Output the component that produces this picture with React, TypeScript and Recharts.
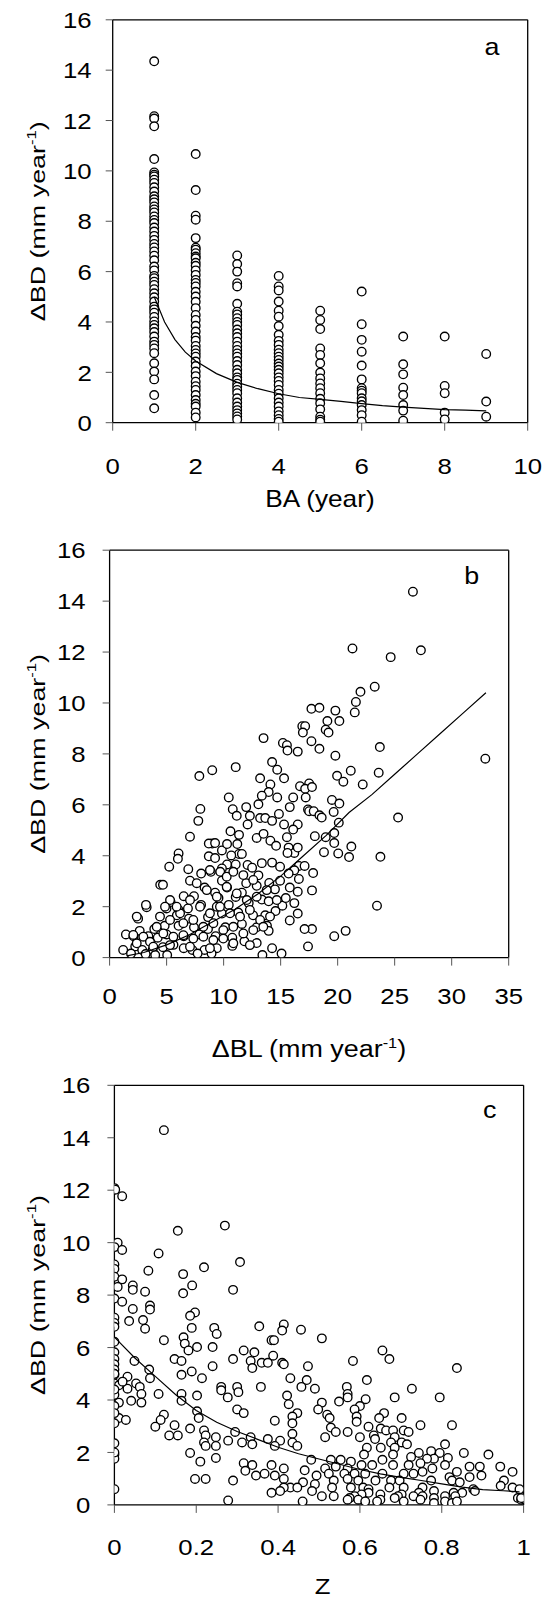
import React from 'react';
import { ScatterChart, Scatter, XAxis, YAxis, ReferenceLine } from 'recharts';

const FONT = '"Liberation Sans", Arial, Helvetica, sans-serif';
const SX = 1.12; // the printed figure's lettering is wider than plain Arial

// ---- panel a: ΔBD by bud age (one column of values per year) ----
const baYears = [1, 2, 3, 4, 5, 6, 7, 8, 9];
const ba1 = [14.35, 12.17, 12.08, 11.77, 10.47, 9.94, 9.85, 9.78, 9.65, 9.52, 9.35, 9.18, 8.99, 8.87, 8.75, 8.59, 8.47, 8.35, 8.19, 8.05, 7.93, 7.75, 7.59, 7.42, 7.26, 7.1, 6.96, 6.8, 6.63, 6.45, 6.2, 6.05, 5.83, 5.74, 5.6, 5.47, 5.3, 5.14, 4.98, 4.81, 4.61, 4.5, 4.37, 4.2, 4.02, 3.88, 3.75, 3.6, 3.42, 3.22, 3.09, 2.95, 2.76, 2.36, 2.03, 1.72, 1.1, 0.57];
const ba2 = [10.67, 9.24, 8.22, 8.06, 7.33, 6.95, 6.87, 6.73, 6.6, 6.53, 6.35, 6.23, 6.05, 5.87, 5.67, 5.55, 5.41, 5.2, 5.01, 4.8, 4.55, 4.28, 4.08, 3.85, 3.62, 3.4, 3.26, 3.05, 2.89, 2.75, 2.62, 2.43, 2.25, 2.03, 1.85, 1.63, 1.45, 1.3, 1.1, 0.9, 0.75, 0.64, 0.4, 0.21];
const ba3 = [6.64, 6.3, 6.0, 5.54, 5.41, 4.72, 4.41, 4.3, 4.15, 4.0, 3.88, 3.7, 3.55, 3.4, 3.22, 3.05, 2.89, 2.75, 2.62, 2.45, 2.29, 2.1, 1.96, 1.8, 1.7, 1.55, 1.43, 1.3, 1.17, 0.97, 0.8, 0.64, 0.5, 0.37, 0.25, 0.13];
const ba4 = [5.83, 5.41, 5.25, 4.81, 4.45, 4.21, 3.84, 3.49, 3.25, 3.09, 2.9, 2.76, 2.62, 2.49, 2.35, 2.23, 2.1, 1.96, 1.8, 1.66, 1.5, 1.3, 1.15, 0.97, 0.8, 0.64, 0.45, 0.3, 0.15, 0.04];
const ba5 = [4.45, 4.08, 3.72, 2.95, 2.69, 2.36, 1.99, 1.76, 1.56, 1.37, 1.17, 0.95, 0.77, 0.53, 0.24, 0.12, 0.04];
const ba6 = [5.21, 3.91, 3.29, 2.82, 2.27, 1.72, 1.37, 1.27, 1.17, 0.97, 0.85, 0.7, 0.5, 0.3, 0.04];
const ba7 = [3.42, 2.32, 1.92, 1.39, 1.1, 0.7, 0.48, 0.08];
const ba8 = [3.42, 1.46, 1.17, 0.4, 0.13];
const ba9 = [2.73, 0.84, 0.24];
const baColumns = [ba1, ba2, ba3, ba4, ba5, ba6, ba7, ba8, ba9];

const fitAx = [1, 1.25, 1.5, 1.75, 2, 2.5, 3, 3.5, 4, 4.5, 5, 5.5, 6, 6.5, 7, 7.5, 8, 8.5, 9];
const fitAy = [5.0, 4.0, 3.3, 2.8, 2.45, 1.95, 1.6, 1.35, 1.15, 1.0, 0.93, 0.85, 0.76, 0.68, 0.62, 0.57, 0.52, 0.5, 0.47];

// ---- panel b: ΔBD against ΔBL ----
const ptsB: [number, number][] = [
  [26.6, 14.37], [21.3, 12.14], [27.3, 12.07], [24.65, 11.8], [23.25, 10.64], [22.0, 10.44], [21.6, 10.04], [21.5, 9.63],
  [17.7, 9.77], [18.4, 9.81], [19.8, 9.7], [19.1, 9.29], [20.15, 9.29], [18.95, 8.95], [19.2, 8.84], [16.9, 9.09],
  [17.15, 9.09], [16.95, 8.84], [17.7, 8.5], [18.4, 8.2], [16.5, 8.09], [15.2, 8.43], [15.55, 8.34], [15.6, 8.13],
  [13.5, 8.62], [19.8, 7.93], [23.7, 8.27], [32.95, 7.81], [14.25, 7.68], [14.7, 7.38], [15.3, 7.04], [13.2, 7.04],
  [11.06, 7.48], [9.0, 7.36], [7.87, 7.13], [21.15, 7.34], [23.6, 7.26], [19.95, 7.14], [20.5, 6.91], [22.2, 6.8],
  [14.1, 6.8], [16.7, 6.73], [17.5, 6.84], [17.15, 6.63], [17.75, 6.7], [17.2, 6.29], [14.7, 6.29], [13.95, 6.5],
  [13.35, 6.36], [10.45, 6.29], [16.1, 6.29], [15.8, 5.91], [13.05, 6.02], [11.98, 5.91], [10.8, 5.83], [7.96, 5.84],
  [17.4, 5.82], [17.5, 5.75], [17.9, 5.75], [18.4, 5.59], [18.6, 5.5], [19.5, 6.19], [20.15, 6.05], [19.65, 5.72],
  [11.15, 5.57], [12.3, 5.57], [12.1, 5.23], [7.78, 5.37], [13.2, 5.48], [13.65, 5.48], [14.25, 5.37], [14.85, 5.64],
  [15.3, 5.23], [16.5, 5.23], [16.1, 5.03], [25.3, 5.5], [20.1, 5.3], [19.7, 4.89], [18.95, 4.73], [18.0, 4.77],
  [7.05, 4.75], [10.6, 4.96], [11.35, 4.82], [12.9, 4.7], [13.5, 4.86], [14.1, 4.59], [14.6, 4.39], [15.55, 4.73],
  [15.7, 4.32], [16.2, 4.11], [15.6, 4.11], [16.5, 4.32], [21.2, 4.36], [19.7, 4.5], [20.05, 4.09], [21.0, 3.95],
  [23.75, 3.96], [18.8, 4.14], [9.0, 4.48], [8.7, 4.48], [9.25, 4.5], [8.7, 3.98], [9.25, 3.91], [6.05, 4.09],
  [5.99, 3.88], [9.85, 4.21], [10.3, 4.46], [11.2, 4.46], [11.35, 4.07], [11.6, 4.07], [10.67, 4.01], [10.3, 3.66],
  [9.85, 3.5], [11.06, 3.66], [12.1, 3.64], [12.5, 3.53], [13.05, 3.23], [13.35, 3.71], [14.25, 3.73], [14.95, 3.57],
  [16.6, 3.6], [17.1, 3.6], [16.2, 3.43], [15.7, 3.3], [17.85, 3.32], [16.6, 3.09], [5.23, 3.57], [6.9, 3.47],
  [8.03, 3.3], [8.88, 3.37], [7.05, 3.02], [4.44, 2.86], [4.68, 2.86], [8.33, 2.75], [9.85, 3.02], [10.3, 2.75],
  [11.98, 2.92], [12.9, 2.82], [14.0, 2.93], [14.5, 2.68], [14.95, 3.02], [15.8, 2.75], [16.5, 2.59], [17.75, 2.64],
  [11.6, 2.55], [11.06, 2.38], [6.5, 2.41], [7.4, 2.41], [9.25, 2.55], [9.55, 2.34], [3.25, 1.98], [5.35, 2.18],
  [4.99, 1.93], [6.05, 1.87], [6.87, 1.93], [8.02, 2.07], [9.4, 2.0], [10.45, 2.07], [12.2, 2.14], [13.35, 2.28],
  [13.95, 2.21], [15.15, 2.04], [15.45, 2.34], [16.2, 2.14], [23.45, 2.04], [2.5, 1.53], [5.9, 1.66], [6.96, 1.53],
  [8.63, 1.59], [9.85, 1.73], [11.28, 1.77], [11.6, 1.32], [12.58, 1.66], [13.65, 1.66], [14.55, 1.83], [15.8, 1.46],
  [16.5, 1.73], [17.75, 1.12], [17.1, 1.12], [13.8, 1.25], [13.95, 1.05], [12.9, 1.19], [20.7, 1.05], [19.7, 0.84],
  [10.15, 1.19], [8.63, 1.12], [7.4, 1.19], [6.05, 1.25], [4.83, 1.25], [3.92, 1.12], [2.64, 1.05], [1.43, 0.91],
  [2.1, 0.84], [3.4, 0.84], [4.22, 0.78], [5.0, 0.91], [6.5, 0.84], [7.87, 0.91], [9.3, 0.84], [10.76, 0.78],
  [11.82, 0.64], [12.9, 0.57], [10.76, 0.46], [14.25, 0.37], [17.4, 0.44], [1.19, 0.3], [2.25, 0.44], [2.86, 0.3],
  [3.77, 0.3], [4.68, 0.41], [5.6, 0.5], [6.5, 0.37], [7.26, 0.3], [8.33, 0.3], [9.4, 0.37], [8.94, 0.16],
  [7.72, 0.16], [5.05, 0.1], [4.0, 0.1], [3.16, 0.14], [13.4, 0.1], [15.08, 0.16], [1.88, 0.16],
  [8.8, 3.44], [9.7, 3.37], [10.27, 3.18], [10.85, 3.37], [11.73, 3.24], [12.6, 3.05], [7.64, 2.92], [8.52, 2.65],
  [9.4, 2.39], [10.27, 2.78], [11.15, 2.52], [12.03, 2.26], [12.9, 2.39], [13.78, 2.65], [14.66, 2.26], [7.05, 2.26],
  [7.93, 2.0], [8.8, 1.74], [9.68, 2.0], [10.56, 1.74], [11.44, 1.61], [12.3, 1.87], [13.2, 1.48], [14.07, 1.61],
  [6.18, 1.74], [5.3, 1.48], [6.47, 1.35], [7.34, 1.48], [8.22, 1.21], [9.1, 1.35], [9.97, 1.08], [10.85, 1.21],
  [11.73, 0.95], [12.6, 1.08], [13.48, 1.21], [4.13, 1.21], [4.71, 0.95], [5.59, 0.82], [6.47, 0.88], [7.34, 0.75],
  [8.22, 0.82], [9.1, 0.69], [9.97, 0.75], [10.85, 0.56], [2.96, 0.82], [3.54, 0.62], [2.38, 0.56], [2.08, 0.89],
  [3.83, 0.43], [5.3, 0.49], [7.05, 0.43], [8.8, 0.37], [12.3, 0.49], [2.38, 1.61], [3.19, 2.07], [5.3, 2.26],
  [5.88, 2.0], [4.86, 2.0], [4.42, 1.61],
];
const fitBx = [1.5, 3, 5, 7, 9, 11, 13, 15, 17, 19, 21, 23, 25, 27, 29, 31, 33];
const fitBy = [0.07, 0.2, 0.5, 0.9, 1.4, 1.9, 2.5, 3.2, 4.0, 4.8, 5.7, 6.4, 7.2, 8.0, 8.8, 9.6, 10.4];

// ---- panel c: ΔBD against Z ----
const ptsC: [number, number][] = [
  [0.121, 14.29], [0, 12.08], [0.002, 12.02], [0.019, 11.77], [0.27, 10.65], [0.155, 10.45], [0.008, 10.0], [0, 9.83],
  [0.019, 9.72], [0.108, 9.59], [0.307, 9.26], [0, 9.17], [0.219, 9.06], [0.083, 8.93], [0, 9.0], [0.168, 8.8],
  [0, 8.7], [0.019, 8.6], [0.008, 8.31], [0.045, 8.37], [0.19, 8.37], [0.045, 8.2], [0.168, 8.07], [0.29, 8.2],
  [0.075, 8.13], [0, 7.87], [0.019, 7.75], [0.087, 7.6], [0.045, 7.47], [0.087, 7.45], [0.197, 7.34], [0.185, 7.21],
  [0, 7.14], [0.07, 7.05], [0.036, 7.01], [0, 6.94], [0, 6.79], [0.075, 6.72], [0.414, 6.88], [0.244, 6.75],
  [0.189, 6.75], [0.354, 6.81], [0.456, 6.68], [0.41, 6.65], [0.25, 6.52], [0.169, 6.39], [0.384, 6.28], [0.39, 6.28],
  [0.121, 6.28], [0.507, 6.35], [0, 6.22], [0.172, 6.15], [0.202, 6.02], [0.24, 6.02], [0.181, 5.89], [0.316, 5.89],
  [0.342, 5.82], [0, 5.82], [0.655, 5.89], [0.388, 5.69], [0.29, 5.56], [0.147, 5.56], [0, 5.56], [0.672, 5.56],
  [0.583, 5.49], [0.049, 5.49], [0.164, 5.49], [0.333, 5.49], [0.36, 5.42], [0.375, 5.42], [0.41, 5.42], [0.414, 5.36],
  [0, 5.36], [0.337, 5.22], [0.24, 5.29], [0.837, 5.22], [0.473, 5.29], [0, 5.16], [0.085, 5.16], [0.189, 5.09],
  [0, 4.96], [0.164, 4.96], [0.032, 4.89], [0.214, 4.83], [0.43, 4.83], [0.087, 4.83], [0.617, 4.76], [0.47, 4.76],
  [0, 4.63], [0.053, 4.63], [0.011, 4.56], [0.358, 4.5], [0.457, 4.5], [0.261, 4.5], [0.3, 4.5], [0.49, 4.43],
  [0.062, 4.5], [0.727, 4.43], [0.032, 4.43], [0.261, 4.37], [0.568, 4.5], [0.57, 4.23], [0.303, 4.3], [0.066, 4.23],
  [0.164, 4.23], [0.202, 4.17], [0.277, 4.1], [0.422, 4.17], [0.108, 4.23], [0.614, 4.03], [0.795, 4.1], [0.685, 4.1],
  [0.57, 4.1], [0.041, 3.97], [0.066, 3.9], [0.164, 3.97], [0.549, 3.94], [0.011, 3.9], [0.426, 3.84], [0.507, 3.9],
  [0.6, 3.77], [0, 3.77], [0.587, 3.64], [0.498, 3.64], [0.3, 3.64], [0.202, 3.57], [0.659, 3.5], [0.52, 3.44],
  [0.121, 3.44], [0.316, 3.5], [0.447, 3.5], [0.206, 3.31], [0.435, 3.37], [0.702, 3.31], [0.526, 3.31], [0.592, 3.37],
  [0.011, 3.31], [0.028, 3.24], [0.113, 3.24], [0.647, 3.31], [0.392, 3.21], [0.592, 3.17], [0, 3.11], [0.435, 3.11],
  [0.825, 3.04], [0.147, 3.04], [0.1, 2.98], [0.621, 2.98], [0.748, 3.04], [0.529, 2.95], [0.219, 2.84], [0.185, 2.91],
  [0.651, 2.91], [0.664, 2.84], [0.681, 2.84], [0.707, 2.84], [0.541, 2.78], [0.57, 2.78], [0.295, 2.78], [0.719, 2.78],
  [0.435, 2.71], [0.134, 2.65], [0.155, 2.65], [0.223, 2.65], [0.634, 2.65], [0.6, 2.58], [0.515, 2.58], [0.685, 2.58],
  [0.248, 2.58], [0.333, 2.58], [0.375, 2.51], [0.637, 2.51], [0.405, 2.45], [0.278, 2.45], [0.312, 2.38], [0.676, 2.38],
  [0.702, 2.38], [0.435, 2.38], [0.219, 2.38], [0, 2.35], [0.337, 2.31], [0.715, 2.31], [0.808, 2.31], [0.248, 2.25],
  [0.223, 2.25], [0.392, 2.25], [0.447, 2.25], [0.617, 2.18], [0.651, 2.18], [0.685, 2.18], [0.774, 2.05], [0.854, 1.98],
  [0.744, 1.98], [0.795, 1.98], [0.185, 1.98], [0.61, 1.92], [0.681, 1.92], [0.914, 1.92], [0, 1.92], [0.725, 1.83],
  [0.248, 1.79], [0.815, 1.79], [0, 1.76], [0.781, 1.76], [0.764, 1.76], [0.481, 1.72], [0.529, 1.72], [0.553, 1.72],
  [0.578, 1.65], [0.655, 1.72], [0.748, 1.59], [0.21, 1.65], [0.316, 1.59], [0.337, 1.52], [0.384, 1.52], [0.604, 1.52],
  [0.63, 1.52], [0.681, 1.52], [0.719, 1.52], [0.808, 1.52], [0.541, 1.46], [0.57, 1.39], [0.893, 1.46], [0.943, 1.46],
  [0.868, 1.46], [0.777, 1.39], [0.515, 1.39], [0.465, 1.32], [0.414, 1.39], [0.32, 1.3], [0.973, 1.26], [0.837, 1.26],
  [0.753, 1.26], [0.731, 1.19], [0.707, 1.19], [0.655, 1.19], [0.613, 1.19], [0.587, 1.19], [0.562, 1.19], [0.524, 1.19],
  [0.494, 1.12], [0.367, 1.19], [0.346, 1.12], [0.392, 1.12], [0.897, 1.12], [0.868, 1.06], [0.197, 0.99], [0.223, 0.99],
  [0.819, 1.06], [0.536, 0.93], [0.596, 0.93], [0.638, 0.93], [0.676, 0.93], [0.697, 0.93], [0.29, 0.93], [0.952, 0.93],
  [0.774, 0.93], [0.414, 0.99], [0.57, 0.99], [0.825, 0.93], [0.49, 0.79], [0.461, 0.86], [0.844, 0.86], [0.944, 0.73],
  [0.973, 0.66], [0.877, 0.6], [0.672, 0.66], [0.707, 0.66], [0.753, 0.66], [0.608, 0.66], [0.578, 0.66], [0.532, 0.66],
  [0.43, 0.66], [0.447, 0.66], [0.414, 0.66], [0.621, 0.6], [0, 0.6], [0.99, 0.6], [0.483, 0.53], [0.384, 0.46],
  [0.405, 0.53], [0.781, 0.53], [0.881, 0.53], [0.829, 0.46], [0.85, 0.46], [0.744, 0.46], [0.621, 0.46], [0.604, 0.4],
  [0.702, 0.4], [0.65, 0.4], [0.587, 0.33], [0.731, 0.33], [0.808, 0.33], [0.833, 0.33], [0.753, 0.33], [0.693, 0.33],
  [0.536, 0.33], [0.507, 0.33], [0.986, 0.26], [0.575, 0.26], [0.57, 0.2], [0.781, 0.26], [0.685, 0.26], [0.65, 0.2],
  [0.596, 0.2], [0.748, 0.2], [0.707, 0.13], [0.642, 0.13], [0.613, 0.13], [0.46, 0.13], [0.278, 0.17], [0.808, 0.13],
  [0.781, 0.07], [0.825, 0.07], [0.837, 0.13], [0.994, 0.2], [0.994, 0.26],
  [0, 4.2], [0, 4.4], [0, 5.0], [0, 3.5], [0, 2.0], [0.02, 4.7],
];
const fitCx = [0, 0.05, 0.1, 0.15, 0.2, 0.25, 0.3, 0.35, 0.4, 0.45, 0.5, 0.55, 0.6, 0.65, 0.7, 0.75, 0.8, 0.85, 0.9, 0.95, 0.99];
const fitCy = [6.4, 5.6, 4.9, 4.2, 3.6, 3.15, 2.8, 2.5, 2.2, 1.95, 1.75, 1.55, 1.35, 1.18, 1.05, 0.93, 0.8, 0.68, 0.58, 0.54, 0.5];

const bdTicks = [0, 2, 4, 6, 8, 10, 12, 14, 16];

const toPts = (pairs: [number, number][]) => pairs.map(([x, y]) => ({ x, y }));
const zipPts = (xs: number[], ys: number[]) => xs.map((x, i) => ({ x, y: ys[i] }));

const Dot = (p: any) => <circle cx={p.cx} cy={p.cy} r={4.3} fill="#fff" stroke="#000" strokeWidth={1.35} />;
const NoDot = () => <g />;

interface PanelProps {
  top: number; height: number;
  plot: { l: number; t: number; r: number; b: number };
  points: { x: number; y: number }[];
  fit: { x: number; y: number }[];
  xMax: number; xTicks: number[];
  yTickMargin: number; xTickMargin: number;
  xTitle: React.ReactNode; xTitleAt: [number, number]; xTitleScale: number;
  letter: string; letterAt: [number, number];
}

function Panel(p: PanelProps) {
  const W = 542;
  const xTick = (t: any) => (
    <text transform={`translate(${t.x},${t.y}) scale(${SX},1)`} textAnchor="middle" dy="0.71em"
      fontSize={23} fontFamily={FONT} fill="#000">{String(t.payload.value)}</text>
  );
  const yTick = (t: any) => (
    <text transform={`translate(${t.x},${t.y}) scale(${SX},1)`} textAnchor="end" dy="0.355em"
      fontSize={23} fontFamily={FONT} fill="#000">{String(t.payload.value)}</text>
  );
  const cy = (p.plot.t + p.plot.b) / 2;
  const yTitle = () => (
    <text transform={`translate(45,${cy}) rotate(-90) scale(1.28,1)`} textAnchor="middle"
      fontSize={21} fontFamily={FONT} fill="#000">
      ΔBD (mm year<tspan dy={-9} fontSize={13}>-1</tspan><tspan dy={9}>)</tspan>
    </text>
  );
  const xTitle = () => (
    <g>
      <text transform={`translate(${p.xTitleAt[0]},${p.xTitleAt[1]}) scale(${p.xTitleScale},1)`} textAnchor="middle"
        fontSize={23} fontFamily={FONT} fill="#000">{p.xTitle}</text>
      <text transform={`translate(${p.letterAt[0]},${p.letterAt[1]}) scale(${SX},1)`} textAnchor="middle"
        fontSize={24} fontFamily={FONT} fill="#000">{p.letter}</text>
    </g>
  );
  return (
    <div style={{ position: 'absolute', left: 0, top: p.top, width: W, height: p.height }}>
      <ScatterChart width={W} height={p.height}
        margin={{ top: p.plot.t, right: W - p.plot.r, left: 0, bottom: 0 }}>
        <XAxis type="number" dataKey="x" domain={[0, p.xMax]} ticks={p.xTicks} interval={0}
          height={p.height - p.plot.b} tickSize={8} tickMargin={p.xTickMargin} tick={xTick}
          axisLine={{ stroke: '#000', strokeWidth: 1.3 }} tickLine={{ stroke: '#555', strokeWidth: 1 }}
          label={xTitle} allowDataOverflow />
        <YAxis type="number" dataKey="y" domain={[0, 16]} ticks={bdTicks} interval={0}
          width={p.plot.l} tickSize={7} tickMargin={p.yTickMargin} tick={yTick}
          axisLine={{ stroke: '#000', strokeWidth: 1.3 }} tickLine={{ stroke: '#555', strokeWidth: 1 }}
          label={yTitle} allowDataOverflow />
        <ReferenceLine y={16} stroke="#000" strokeWidth={1.3} />
        <ReferenceLine x={p.xMax} stroke="#000" strokeWidth={1.3} />
        <Scatter data={p.points} shape={Dot} isAnimationActive={false} />
        <Scatter data={p.fit} shape={NoDot} line={{ stroke: '#000', strokeWidth: 1.2 }} isAnimationActive={false} />
      </ScatterChart>
    </div>
  );
}

export default function App() {
  const ptsA = baColumns.flatMap((col, i) => col.map(y => ({ x: baYears[i], y })));
  return (
    <div style={{ position: 'absolute', left: 0, top: 0, width: 542, height: 1600, background: '#fff' }}>
      <Panel top={0} height={526} plot={{ l: 112.7, t: 19.8, r: 527.7, b: 422.7 }}
        points={ptsA} fit={zipPts(fitAx, fitAy)} xMax={10} xTicks={[0, 2, 4, 6, 8, 10]}
        yTickMargin={14} xTickMargin={27}
        xTitle="BA (year)" xTitleAt={[320, 507]} xTitleScale={1.14} letter="a" letterAt={[492, 55]} />
      <Panel top={520} height={548} plot={{ l: 109.6, t: 30.2, r: 508.7, b: 437.6 }}
        points={toPts(ptsB)} fit={zipPts(fitBx, fitBy)} xMax={35} xTicks={[0, 5, 10, 15, 20, 25, 30, 35]}
        yTickMargin={17} xTickMargin={22}
        xTitle={<>ΔBL (mm year<tspan dy={-9} fontSize={14}>-1</tspan><tspan dy={9}>)</tspan></>}
        xTitleAt={[309, 537]} xTitleScale={1.17} letter="b" letterAt={[471.6, 64]} />
      <Panel top={1060} height={540} plot={{ l: 114.4, t: 25.3, r: 523.6, b: 444.9 }}
        points={toPts(ptsC)} fit={zipPts(fitCx, fitCy)} xMax={1} xTicks={[0, 0.2, 0.4, 0.6, 0.8, 1]}
        yTickMargin={17} xTickMargin={26}
        xTitle="Z" xTitleAt={[322.5, 534]} xTitleScale={1.12} letter="c" letterAt={[489.6, 58]} />
    </div>
  );
}
